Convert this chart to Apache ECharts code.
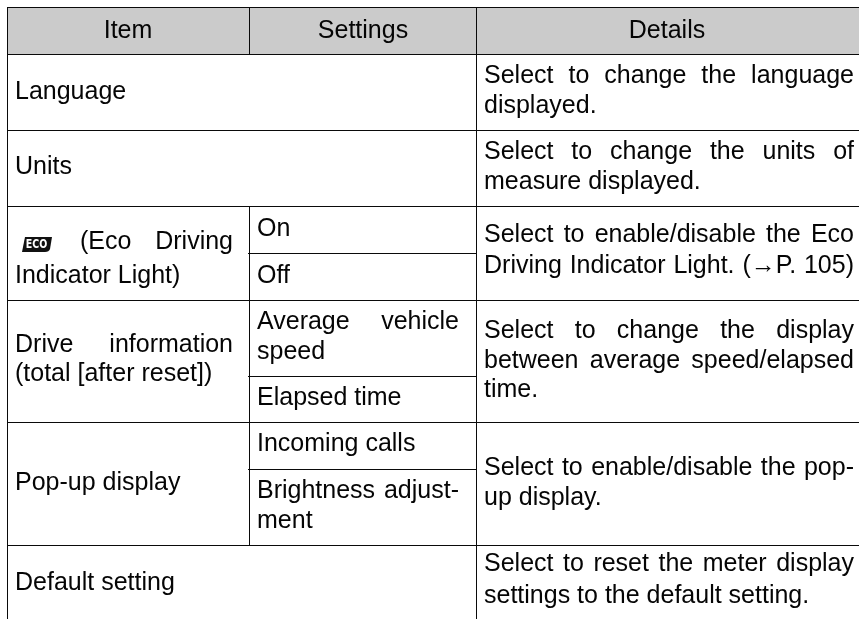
<!DOCTYPE html>
<html><head><meta charset="utf-8">
<style>html,body{margin:0;padding:0;background:#fff}#c{width:859px;height:619px}</style>
<script src="https://cdn.jsdelivr.net/npm/echarts@6/dist/echarts.min.js"></script>
</head><body><div id="c"></div>
<script>
const headerLabels = ['Item', 'Settings', 'Details'];
const itemLabels = ['Language', 'Units', '(Eco Driving', 'Indicator Light)', 'Drive information', '(total [after reset])', 'Pop-up display', 'Default setting'];
const settingLabels = ['On', 'Off', 'Average vehicle', 'speed', 'Elapsed time', 'Incoming calls', 'Brightness adjust-', 'ment'];
const detailLabels = [
  'Select to change the language', 'displayed.',
  'Select to change the units of', 'measure displayed.',
  'Select to enable/disable the Eco', 'Driving Indicator Light. (\u2192P. 105)',
  'Select to change the display', 'between average speed/elapsed', 'time.',
  'Select to enable/disable the pop-', 'up display.',
  'Select to reset the meter display', 'settings to the default setting.'
];
const badgeLabel = 'ECO';

// layout (table coordinates, separate from the content above)
const W = 859, H = 619;
const FONT_SIZE = 25, FONT = FONT_SIZE + 'px "Liberation Sans", Arial, sans-serif';
const INK = '#050505', RULE = '#0a0a0a', HEAD = '#cbcbcb';
const headerBand = [7, 7, W, 54];
const vRules = [[7, 7, 619], [249, 7, 54], [249, 206, 545], [476, 7, 619]];
const hRules = [[7, W, 7], [7, W, 54], [7, W, 130], [7, W, 206], [248, 476, 253], [7, W, 300], [248, 476, 376], [7, W, 422], [248, 476, 469], [7, W, 545]];
const headerCentres = [128, 363, 667];
const headerBase = [40];
const itemX = [15, 15, 80, 15, 15, 15, 15, 15];
const itemRight = [0, 0, 233, 0, 233, 0, 0, 0];
const itemBase = [101, 176, 251, 285, 354, 383, 492, 592];
const settingRight = [0, 0, 459, 0, 0, 0, 459, 0];
const settingBase = [238, 285, 331, 361, 407, 453, 500, 530];
const detailRight = [854, 0, 854, 0, 854, 854, 854, 854, 0, 854, 0, 854, 0];
const detailBase = [85, 115, 161, 191, 244, 275, 340, 370, 399, 477, 507, 573, 605];

const mctx = document.createElement('canvas').getContext('2d');
mctx.font = FONT;

function lineNode(a, b) {
  return { type: 'line', shape: { x1: a[0], y1: a[1], x2: b[0], y2: b[1] }, style: { stroke: RULE, lineWidth: 1 } };
}
const textNode = (t, x, base, align) => ({
  type: 'text',
  style: { text: t, x: x, y: base - FONT_SIZE * 0.355, font: FONT, fill: INK, align: align || 'left', verticalAlign: 'middle' }
});

const textRows = [];
headerLabels.forEach((t, i) => textRows.push({ value: [headerCentres[i], headerBase[0], 0], t, align: 'center' }));
itemLabels.forEach((t, i) => textRows.push({ value: [itemX[i], itemBase[i], itemRight[i]], t }));
settingLabels.forEach((t, i) => textRows.push({ value: [257, settingBase[i], settingRight[i]], t }));
detailLabels.forEach((t, i) => textRows.push({ value: [484, detailBase[i], detailRight[i]], t }));

const chart = echarts.init(document.getElementById('c'), null, { renderer: 'canvas' });
chart.setOption({
  animation: false,
  backgroundColor: '#ffffff',
  grid: { left: 0, right: 0, top: 0, bottom: 0 },
  xAxis: { type: 'value', min: 0, max: W, show: false },
  yAxis: { type: 'value', min: 0, max: H, inverse: true, show: false },
  series: [
    {
      type: 'custom', silent: true, z: 1, clip: false,
      data: [headerBand],
      renderItem: (p, api) => {
        const a = api.coord([api.value(0), api.value(1)]), b = api.coord([api.value(2), api.value(3)]);
        return { type: 'rect', shape: { x: a[0], y: a[1], width: b[0] - a[0], height: b[1] - a[1] }, style: { fill: HEAD } };
      }
    },
    {
      type: 'custom', silent: true, z: 2, clip: false,
      data: vRules,
      renderItem: (p, api) => {
        const a = api.coord([api.value(0), api.value(1)]), b = api.coord([api.value(0), api.value(2)]);
        return lineNode([a[0] + .5, a[1]], [b[0] + .5, b[1]]);
      }
    },
    {
      type: 'custom', silent: true, z: 2, clip: false,
      data: hRules,
      renderItem: (p, api) => {
        const a = api.coord([api.value(0), api.value(2)]), b = api.coord([api.value(1), api.value(2)]);
        return lineNode([a[0], a[1] + .5], [b[0], b[1] + .5]);
      }
    },
    {
      type: 'custom', silent: true, z: 3, clip: false,
      data: textRows,
      renderItem: (p, api) => {
        const row = textRows[p.dataIndex];
        const c = api.coord([api.value(0), api.value(1)]);
        const right = api.value(2);
        if (!right) return textNode(row.t, c[0], c[1], row.align);
        const words = row.t.split(' ');
        const widths = words.map(w => mctx.measureText(w).width);
        const gap = (right - c[0] - widths.reduce((s, v) => s + v, 0)) / (words.length - 1);
        let x = c[0];
        const children = words.map((w, i) => { const n = textNode(w, x, c[1]); x += widths[i] + gap; return n; });
        return { type: 'group', children };
      }
    },
    {
      type: 'custom', silent: true, z: 3, clip: false,
      data: [[22, 237, 52, 252]],
      renderItem: (p, api) => {
        const a = api.coord([api.value(0), api.value(1)]), b = api.coord([api.value(2), api.value(3)]);
        const [x0, y0] = a, [x1, y1] = b;
        const cx = (x0 + x1) / 2 - 0.5, cy = (y0 + y1) / 2;
        return {
          type: 'group', children: [
            { type: 'path', shape: { pathData: `M${x0 + 3} ${y0} L${x1} ${y0} L${x1 - 2} ${y1 - 3} Q${x1 - 3} ${y1} ${x1 - 7} ${y1} L${x0} ${y1} Z` }, style: { fill: '#111111' } },
            { type: 'text', x: cx, y: cy, scaleX: 0.73, style: { text: badgeLabel, x: 0, y: 0.5, font: 'normal bold 13px "DejaVu Sans",sans-serif', fill: '#ffffff', align: 'center', verticalAlign: 'middle' } }
          ]
        };
      }
    }
  ]
});
</script></body></html>
